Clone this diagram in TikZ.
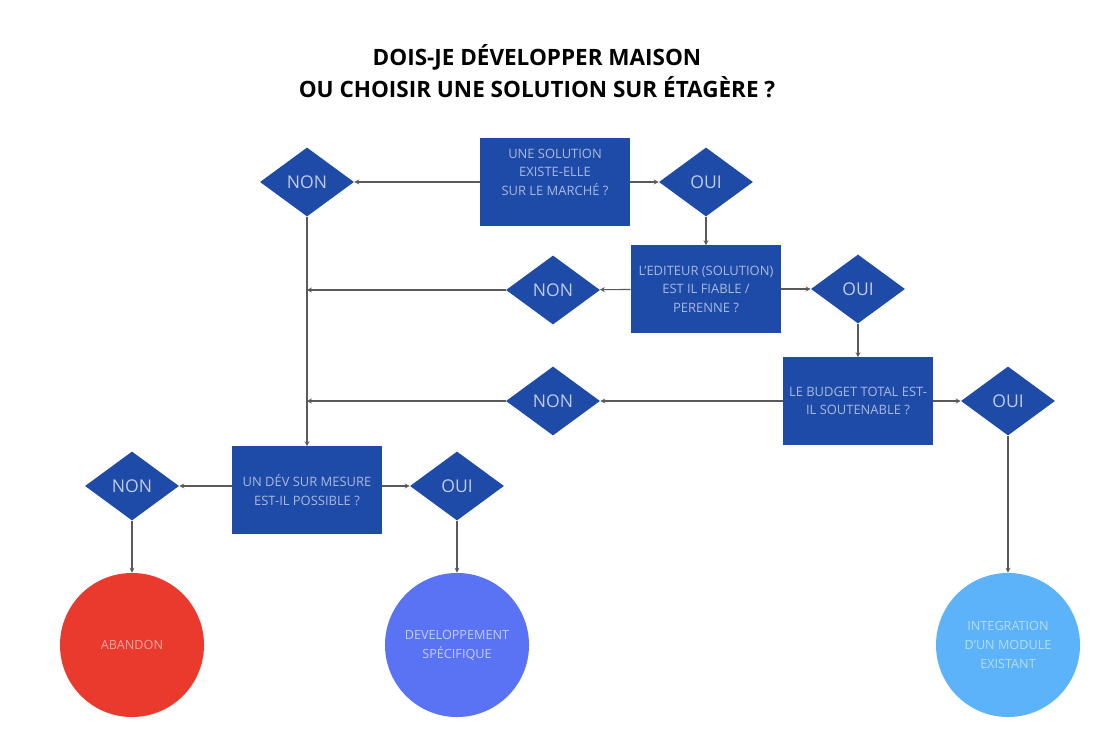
\documentclass[tikz,border=0pt]{standalone}
\usepackage{fontspec}
\setmainfont{Open Sans}
\usetikzlibrary{shapes.geometric, arrows.meta}
\definecolor{flowblue}{RGB}{30,74,168}
\definecolor{abandonred}{RGB}{234,58,46}
\definecolor{devblue}{RGB}{90,115,245}
\definecolor{integblue}{RGB}{93,179,249}
\definecolor{linegray}{RGB}{90,90,90}

\begin{document}
\begin{tikzpicture}[x=0.025cm, y=-0.025cm,
 question/.style={fill=flowblue, minimum width=3.75cm, minimum height=2.175cm, align=center, inner sep=2pt, text=white!62!flowblue, font=\fontsize{9.2}{13.1}\selectfont},
 answer/.style={diamond, fill=flowblue, minimum width=2.35cm, minimum height=1.725cm, inner sep=0pt, text=white!72!flowblue, font=\fontsize{12.5}{15}\selectfont},
 outcome/.style={circle, minimum size=3.6cm, align=center, inner sep=0pt, font=\fontsize{9}{13.5}\selectfont},
 link/.style={draw=linegray, line width=0.8pt, -{Stealth[length=3.5pt,width=3.5pt]}}]
 \useasboundingbox (0,0) rectangle (1120,741);
 \node[font=\fontsize{16}{22.7}\selectfont\bfseries, align=center] (title) at (537,71){DOIS-JE DÉVELOPPER MAISON\\OU CHOISIR UNE SOLUTION SUR ÉTAGÈRE ?};
 % questions
 \node[question, text depth=14pt] (exist) at (555,182){UNE SOLUTION\\EXISTE-ELLE\\SUR LE MARCHÉ ?};
 \node[question] (editor) at (706,289){L'EDITEUR (SOLUTION)\\EST IL FIABLE /\\PERENNE ?};
 \node[question] (budget) at (858,401){LE BUDGET TOTAL EST-\\IL SOUTENABLE ?};
 \node[question] (custom) at (307,490){UN DÉV SUR MESURE\\EST-IL POSSIBLE ?};
 % answers
 \node[answer] (non1) at (307,182){NON};
 \node[answer] (oui1) at (706,182){OUI};
 \node[answer] (non2) at (553,290){NON};
 \node[answer] (oui2) at (858,289){OUI};
 \node[answer] (non3) at (553,401){NON};
 \node[answer] (oui3) at (1008,401){OUI};
 \node[answer] (non4) at (132,486){NON};
 \node[answer] (oui4) at (457,486){OUI};
 % outcomes
 \node[outcome, fill=abandonred, text=white!55!abandonred] (abandon) at (132,645){ABANDON};
 \node[outcome, fill=devblue, text=white!65!devblue] (specific) at (457,645){DEVELOPPEMENT\\SPÉCIFIQUE};
 \node[outcome, fill=integblue, text=white!55!integblue] (integration) at (1008,645){INTEGRATION\\D'UN MODULE\\EXISTANT};
 % connectors
 \draw[link] (exist) -- (non1);
 \draw[link] (exist) -- (oui1);
 \draw[link] (oui1.south) -- (oui1.south |- editor.north);
 \draw[link] (editor) -- (non2);
 \draw[link] (editor) -- (oui2);
 \draw[link] (non2.west) -- (non2.west -| non1.south);
 \draw[link] (oui2.south) -- (oui2.south |- budget.north);
 \draw[link] (budget) -- (non3);
 \draw[link] (budget) -- (oui3);
 \draw[link] (non3.west) -- (non3.west -| non1.south);
 \draw[link] (non1.south) -- (non1.south |- custom.north);
 \draw[link] (custom.west |- non4.east) -- (non4.east);
 \draw[link] (custom.east |- oui4.west) -- (oui4.west);
 \draw[link] (non4.south) -- (non4.south |- abandon.north);
 \draw[link] (oui4.south) -- (oui4.south |- specific.north);
 \draw[link] (oui3.south) -- (oui3.south |- integration.north);
\end{tikzpicture}
\end{document}
